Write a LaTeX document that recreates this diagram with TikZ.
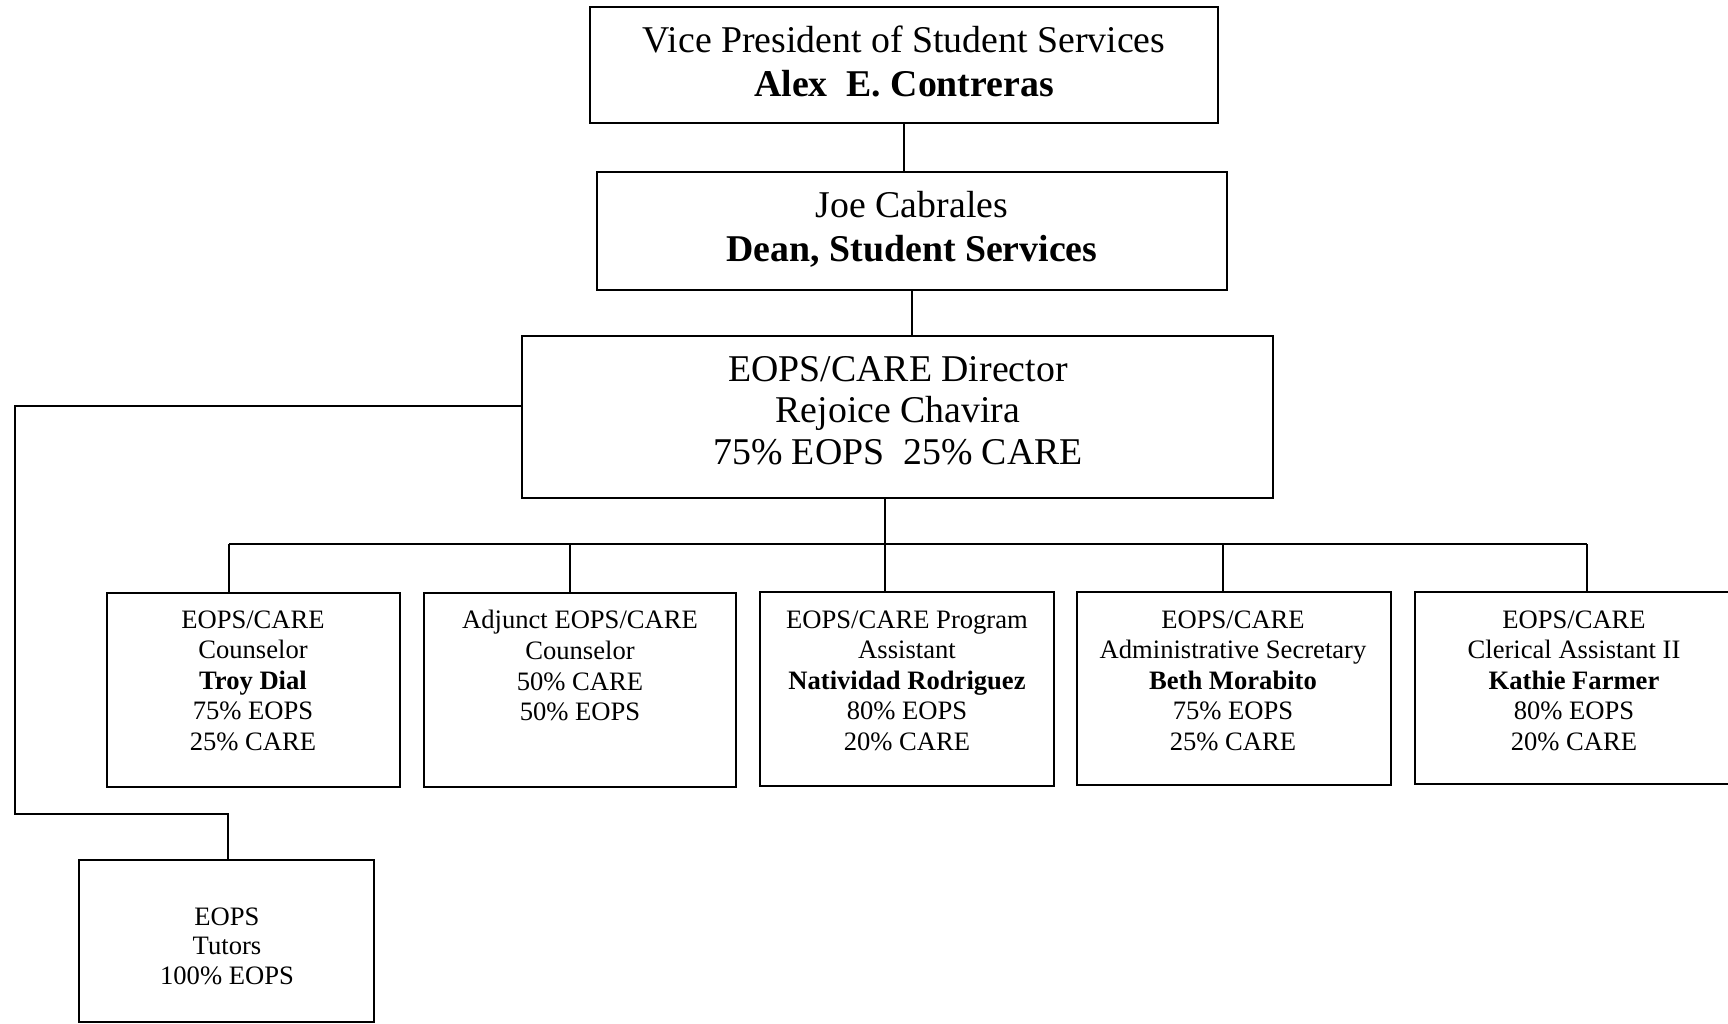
\documentclass[tikz,border=0pt]{standalone}
\usepackage{fontspec}
\setmainfont{Liberation Serif}
\usetikzlibrary{fit}
\begin{document}
\begin{tikzpicture}[x=0.5pt,y=-0.5pt,
  orgbox/.style={draw, line width=1.3pt, inner sep=0pt},
  link/.style={line width=0.8pt},
  bigtxt/.style={font=\fontsize{18.9}{22}\selectfont, align=center, inner sep=0pt, anchor=north},
  dirtxt/.style={font=\fontsize{18.9}{20.75}\selectfont, align=center, inner sep=0pt, anchor=north},
  smalltxt/.style={font=\fontsize{13.3}{15.3}\selectfont, align=center, inner sep=0pt, anchor=north},
  tuttxt/.style={font=\fontsize{13.3}{14.75}\selectfont, align=center, inner sep=0pt, anchor=north}]
\useasboundingbox (0,0) rectangle (1728,1023);
\fill[white] (0,0) rectangle (1728,1023);

% boxes
\node[orgbox, fit={(590,7) (1218,123)}] (vp) {};
\node[bigtxt] (vpt) at (904,25) {Vice President of Student Services\\\textbf{Alex\ \ E. Contreras}};

\node[orgbox, fit={(597,172) (1227,290)}] (dean) {};
\node[bigtxt] (deant) at (912,190.5) {Joe Cabrales\\\textbf{Dean, Student Services}};

\node[orgbox, fit={(522,336) (1273,498)}] (dir) {};
\node[dirtxt] (dirt) at (898,356) {EOPS/CARE Director\\Rejoice Chavira\\75\% EOPS\ \ 25\% CARE};

\node[orgbox, fit={(107,593) (400,787)}] (b1) {};
\node[smalltxt] (b1t) at (253,610) {EOPS/CARE\\Counselor\\\textbf{Troy Dial}\\75\% EOPS\\25\% CARE};

\node[orgbox, fit={(424,593) (736,787)}] (b2) {};
\node[smalltxt] (b2t) at (580,610) {Adjunct EOPS/CARE\\Counselor\\50\% CARE\\50\% EOPS};

\node[orgbox, fit={(760,592) (1054,786)}] (b3) {};
\node[smalltxt] (b3t) at (907,610) {EOPS/CARE Program\\Assistant\\\textbf{Natividad Rodriguez}\\80\% EOPS\\20\% CARE};

\node[orgbox, fit={(1077,592) (1391,785)}] (b4) {};
\node[smalltxt] (b4t) at (1233,610) {EOPS/CARE\\Administrative Secretary\\\textbf{Beth Morabito}\\75\% EOPS\\25\% CARE};

\node[orgbox, fit={(1415,592) (1733,784)}] (b5) {};
\node[smalltxt] (b5t) at (1574,610) {EOPS/CARE\\Clerical Assistant II\\\textbf{Kathie Farmer}\\80\% EOPS\\20\% CARE};

\node[orgbox, fit={(79,860) (374,1022)}] (tut) {};
\node[tuttxt] (tutt) at (227,907) {EOPS\\Tutors\\100\% EOPS};

% connector points
\coordinate (v1) at (904,0);
\coordinate (ds) at (885,544);
\coordinate (d1) at (229,544);
\coordinate (d2) at (570,544);
\coordinate (d4) at (1223,544);
\coordinate (d5) at (1587,544);
\coordinate (lt) at (15,406);
\coordinate (lb) at (15,814);
\coordinate (tc) at (228,814);

% connectors
\draw[link] (vp.south -| v1) -- (dean.north -| v1);
\draw[link] (dean.south) -- (dir.north -| dean.south);
\draw[link] (dir.south -| ds) -- (ds);
\draw[link] (d1) -- (d5);
\draw[link] (d1) -- (d1 |- b1.north);
\draw[link] (d2) -- (d2 |- b2.north);
\draw[link] (ds) -- (ds |- b3.north);
\draw[link] (d4) -- (d4 |- b4.north);
\draw[link] (d5) -- (d5 |- b5.north);
\draw[link] (dir.west |- lt) -- (lt) -- (lb) -- (tc) -- (tc |- tut.north);
\end{tikzpicture}
\end{document}
